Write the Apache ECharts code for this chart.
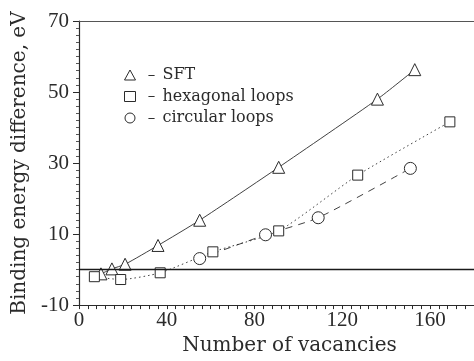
<!DOCTYPE html>
<html>
<head>
<meta charset="utf-8">
<script src="https://cdn.jsdelivr.net/npm/echarts@6/dist/echarts.min.js"></script>
<style>
  html, body { margin: 0; padding: 0; background: #fff; }
  #chart { width: 474px; height: 361px; }
</style>
</head>
<body>
<div id="chart"></div>
<script>
// Binding energy difference vs. cluster size for three vacancy-cluster shapes
const sftVacancies = [10, 15, 21, 36, 55, 91, 136, 153];
const sftEnergy = [-1.2, 0.2, 1.5, 6.8, 13.9, 28.8, 48.0, 56.3];

const hexVacancies = [7, 19, 37, 61, 91, 127, 169];
const hexEnergy = [-2.0, -2.8, -0.9, 5.0, 10.9, 26.6, 41.6];

const circVacancies = [55, 85, 109, 151];
const circEnergy = [3.1, 9.8, 14.6, 28.5];

const seriesNames = ['SFT', 'hexagonal loops', 'circular loops'];
const yLabelValues = [-10, 10, 30, 50, 70];
const xLabelValues = [0, 40, 80, 120, 160];

const ink = '#2b2b2b';
const serif = 'DejaVu Serif';
const numFont = 'Liberation Serif';

function pairs(xs, ys) {
  return xs.map((x, i) => [x, ys[i]]);
}

// hollow marker style shared by the three series
const markerStyle = { color: '#ffffff', borderColor: ink, borderWidth: 1 };

const chart = echarts.init(document.getElementById('chart'), null, { renderer: 'canvas' });

chart.setOption({
  backgroundColor: '#ffffff',
  animation: false,
  grid: { left: 79, right: 0, top: 21, bottom: 41, containLabel: false },
  legend: {
    orient: 'vertical',
    left: 119,
    top: 62,
    itemWidth: 11,
    itemHeight: 10,
    itemGap: 5.5,
    lineStyle: { opacity: 0 },
    data: [
      { name: seriesNames[0], icon: 'triangle' },
      { name: seriesNames[1], icon: 'rect' },
      { name: seriesNames[2], icon: 'circle' }
    ],
    itemStyle: { color: '#ffffff', borderColor: ink, borderWidth: 1 },
    formatter: name => '{d|–}{t|' + name + '}',
    textStyle: {
      rich: {
        d: { width: 22, align: 'center', fontFamily: serif, fontSize: 15, color: ink },
        t: { fontFamily: serif, fontSize: 16, color: ink }
      }
    },
    selectedMode: false
  },
  xAxis: [
    {
      type: 'value',
      min: 0,
      max: 180,
      interval: 4,
      name: 'Number of vacancies',
      nameLocation: 'middle',
      nameGap: 22,
      nameTextStyle: { fontFamily: serif, fontSize: 20, color: ink, padding: [0, 0, 0, 26] },
      axisLine: { show: true, onZero: false, lineStyle: { color: ink, width: 1.2 } },
      axisTick: { show: true, inside: false, length: 4, lineStyle: { color: ink } },
      axisLabel: {
        customValues: xLabelValues,
        margin: 5,
        fontFamily: numFont,
        fontSize: 21,
        color: ink
      },
      splitLine: { show: false }
    },
    {
      type: 'value',
      position: 'top',
      min: 0,
      max: 180,
      axisLine: { show: true, onZero: false, lineStyle: { color: '#555', width: 1 } },
      axisTick: { show: false },
      axisLabel: { show: false },
      splitLine: { show: false }
    }
  ],
  yAxis: [
    {
      type: 'value',
      min: -10,
      max: 70,
      interval: 2,
      name: 'Binding energy difference, eV',
      nameLocation: 'middle',
      nameGap: 47,
      nameRotate: 90,
      nameTextStyle: { fontFamily: serif, fontSize: 20, color: ink },
      axisLine: { show: true, onZero: false, lineStyle: { color: ink, width: 1.2 } },
      axisTick: { show: true, inside: false, length: 3, lineStyle: { color: '#555' } },
      axisLabel: {
        customValues: yLabelValues,
        margin: 10,
        fontFamily: numFont,
        fontSize: 21,
        color: ink
      },
      splitLine: { show: false }
    },
    {
      type: 'value',
      position: 'left',
      min: -10,
      max: 70,
      axisLine: { show: false },
      axisTick: { show: true, inside: false, length: 6, customValues: yLabelValues, lineStyle: { color: ink } },
      axisLabel: { show: false },
      splitLine: { show: false }
    }
  ],
  series: [
    {
      name: seriesNames[0],
      type: 'line',
      data: pairs(sftVacancies, sftEnergy),
      smooth: 0.2,
      symbol: 'triangle',
      symbolSize: 12,
      itemStyle: markerStyle,
      lineStyle: { color: ink, width: 0.9, type: 'solid' },
      z: 3,
      markLine: {
        silent: true,
        symbol: 'none',
        label: { show: false },
        lineStyle: { color: '#1a1a1a', width: 1.4, type: 'solid' },
        data: [{ yAxis: 0 }]
      }
    },
    {
      name: seriesNames[1],
      type: 'line',
      data: pairs(hexVacancies, hexEnergy),
      smooth: 0.2,
      symbol: 'rect',
      symbolSize: 10,
      itemStyle: markerStyle,
      lineStyle: { color: ink, width: 0.9, type: [1.5, 3] },
      z: 3
    },
    {
      name: seriesNames[2],
      type: 'line',
      data: pairs(circVacancies, circEnergy),
      smooth: 0.2,
      symbol: 'circle',
      symbolSize: 12,
      itemStyle: markerStyle,
      lineStyle: { color: ink, width: 0.9, type: [7, 6] },
      z: 3
    }
  ]
});
</script>
</body>
</html>
